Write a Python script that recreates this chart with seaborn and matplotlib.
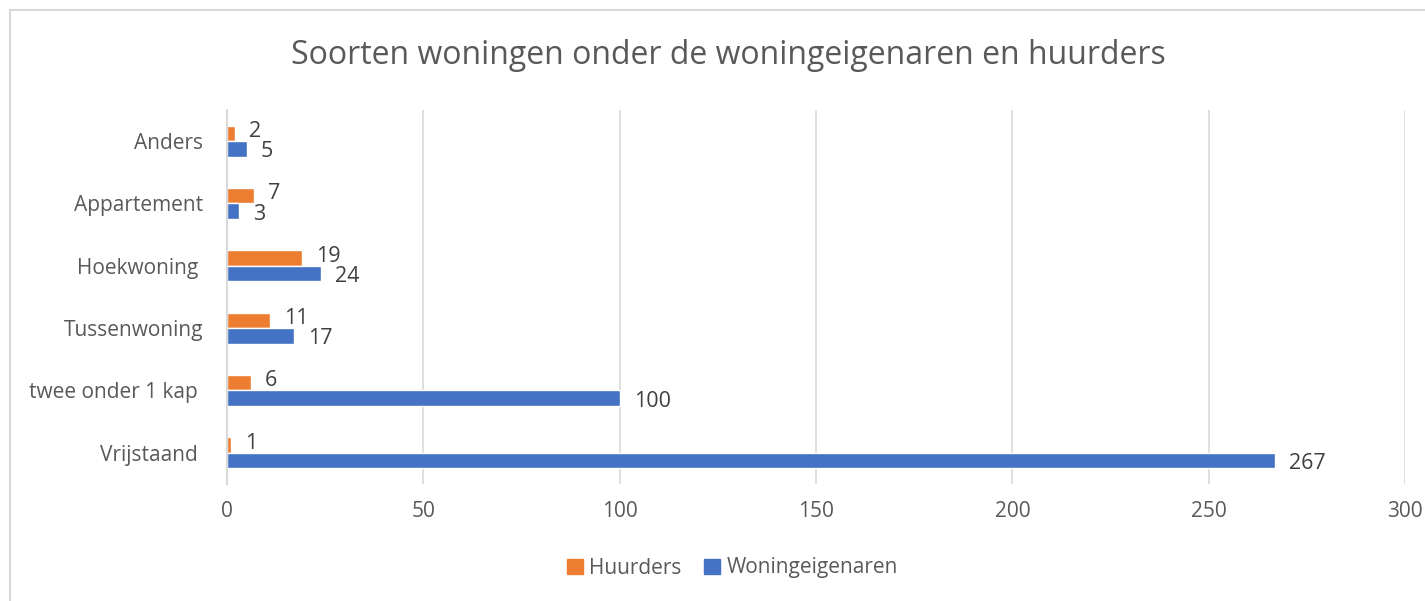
import pandas as pd
import seaborn as sns
import matplotlib.pyplot as plt
from matplotlib.patches import Rectangle

# data
categories = ['Anders', 'Appartement', 'Hoekwoning ', 'Tussenwoning', 'twee onder 1 kap ', 'Vrijstaand ']
huurders = [2, 7, 19, 11, 6, 1]
eigenaren = [5, 3, 24, 17, 100, 267]
series = ['Huurders', 'Woningeigenaren']
colors = ['#ED7D31', '#4472C4']
x_ticks = [0, 50, 100, 150, 200, 250, 300]

df = pd.DataFrame({'soort': categories * 2,
                   'aantal': huurders + eigenaren,
                   'groep': [series[0]] * len(categories) + [series[1]] * len(categories)})

sns.set_theme(style='white')
plt.rcParams['font.family'] = ['Open Sans', 'DejaVu Sans']
txt = '#595959'

fig = plt.figure(figsize=(14.25, 6.01), dpi=100)
ax = fig.add_axes([227 / 1425, 1 - 484 / 601, (1405 - 227) / 1425, (484 - 110) / 601])

sns.barplot(data=df, x='aantal', y='soort', hue='groep', order=categories,
            hue_order=series, palette=colors, orient='h', width=0.5,
            ax=ax, legend=False, saturation=1)

ax.set_xlim(0, 300)
ax.set_xticks(x_ticks)
ax.set_xlabel('')
ax.set_ylabel('')
ax.grid(axis='x', color='#D9D9D9', linewidth=1.2)
ax.set_axisbelow(True)
for s in ['top', 'right', 'bottom']:
    ax.spines[s].set_visible(False)
ax.spines['left'].set_color('#D9D9D9')
ax.spines['left'].set_linewidth(1.5)
ax.tick_params(axis='both', length=0, labelsize=15, labelcolor=txt)
ax.tick_params(axis='x', pad=12)
ax.tick_params(axis='y', pad=17)

# value labels
for cont, dy in zip(ax.containers, [2, -3]):
    for bar, v in zip(cont, cont.datavalues):
        ax.annotate(f'{int(v)}', (bar.get_width(), bar.get_y() + bar.get_height() / 2),
                    xytext=(14, dy), textcoords='offset pixels', ha='left', va='center',
                    fontsize=15.5, color='#404040')

fig.text(0.511, 1 - 55 / 601, 'Soorten woningen onder de woningeigenaren en huurders',
         ha='center', va='center', fontsize=23, color=txt)

handles = [Rectangle((0, 0), 1, 1, color=c) for c in colors]
fig.legend(handles, series, loc='center', bbox_to_anchor=(0.514, 1 - 568 / 601), ncol=2,
           frameon=False, fontsize=15, labelcolor=txt, handlelength=0.75, handleheight=0.75,
           handletextpad=0.3, columnspacing=1.1)

# chart border
fig.patches.append(Rectangle((10 / 1425, -0.1), 1.2, 1 - 10 / 601 + 0.1, transform=fig.transFigure,
                             fill=False, edgecolor='#D9D9D9', linewidth=1.5))

fig.savefig('out.png', dpi=100)
